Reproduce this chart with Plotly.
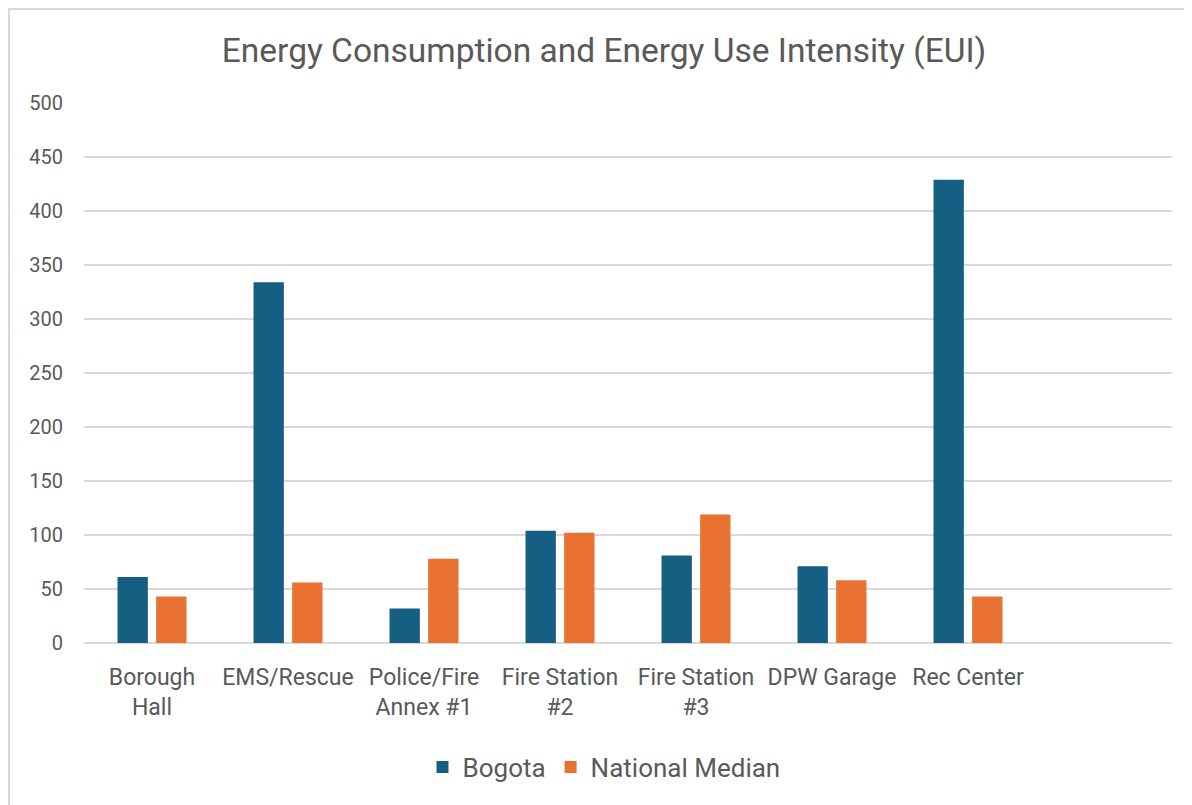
import plotly.graph_objects as go

categories = ["Borough<br>Hall", "EMS/Rescue", "Police/Fire<br>Annex #1", "Fire Station<br>#2",
              "Fire Station<br>#3", "DPW Garage", "Rec Center"]
bogota = [61, 334, 32, 104, 81, 71, 429]
national_median = [43, 56, 78, 102, 119, 58, 43]
y_ticks = [0, 50, 100, 150, 200, 250, 300, 350, 400, 450, 500]

positions = list(range(len(categories)))
font_family = "Roboto, Lato, sans-serif"
grey = "#595959"

W, H = 1184, 797
L, R, T, B = 76, 20, 95, 162
PW, PH = W - L - R, H - T - B

fig = go.Figure()
fig.add_trace(go.Bar(x=positions, y=bogota, name="Bogota", marker_color="#156082",
                     marker_line_width=0))
fig.add_trace(go.Bar(x=positions, y=national_median, name="National Median", marker_color="#E97132",
                     marker_line_width=0))

fig.update_layout(
    width=W, height=H,
    margin=dict(l=L, r=R, t=T, b=B),
    paper_bgcolor="white", plot_bgcolor="white",
    barmode="group", bargap=0.432, bargroupgap=0.215,
    title=dict(text="Energy Consumption and Energy Use Intensity (EUI)",
               x=(604 - 84) / PW, xref="paper", xanchor="center", y=1 - 42 / H, yanchor="middle",
               font=dict(family=font_family, size=33.5, color=grey)),
    font=dict(family=font_family, color=grey),
    legend=dict(orientation="h", x=(604 - 84) / PW, xanchor="center", y=-(759 - 635) / PH,
                yanchor="middle", font=dict(size=26, color=grey), itemwidth=30),
    xaxis=dict(range=[-0.5, 7.5], tickvals=positions, ticktext=categories,
               showgrid=False, zeroline=False, showline=False, ticks="",
               tickfont=dict(size=23, color=grey), ticklabelstandoff=18),
    yaxis=dict(range=[0, 500], tickvals=y_ticks, showgrid=True, gridcolor="#d9d9d9",
               gridwidth=1.5, zeroline=True, zerolinecolor="#d9d9d9", zerolinewidth=1.5,
               showline=False, ticks="", ticklen=0, tickfont=dict(size=20, color=grey),
               ticklabelstandoff=20),
    shapes=[dict(type="rect", xref="paper", yref="paper",
                 x0=(1 - L) / PW, x1=(W + 20 - L) / PW,
                 y0=(PH + T - H - 20) / PH, y1=(PH + T - 1) / PH,
                 line=dict(color="#d9d9d9", width=2), layer="below")],
)

fig.write_html("out.html")
